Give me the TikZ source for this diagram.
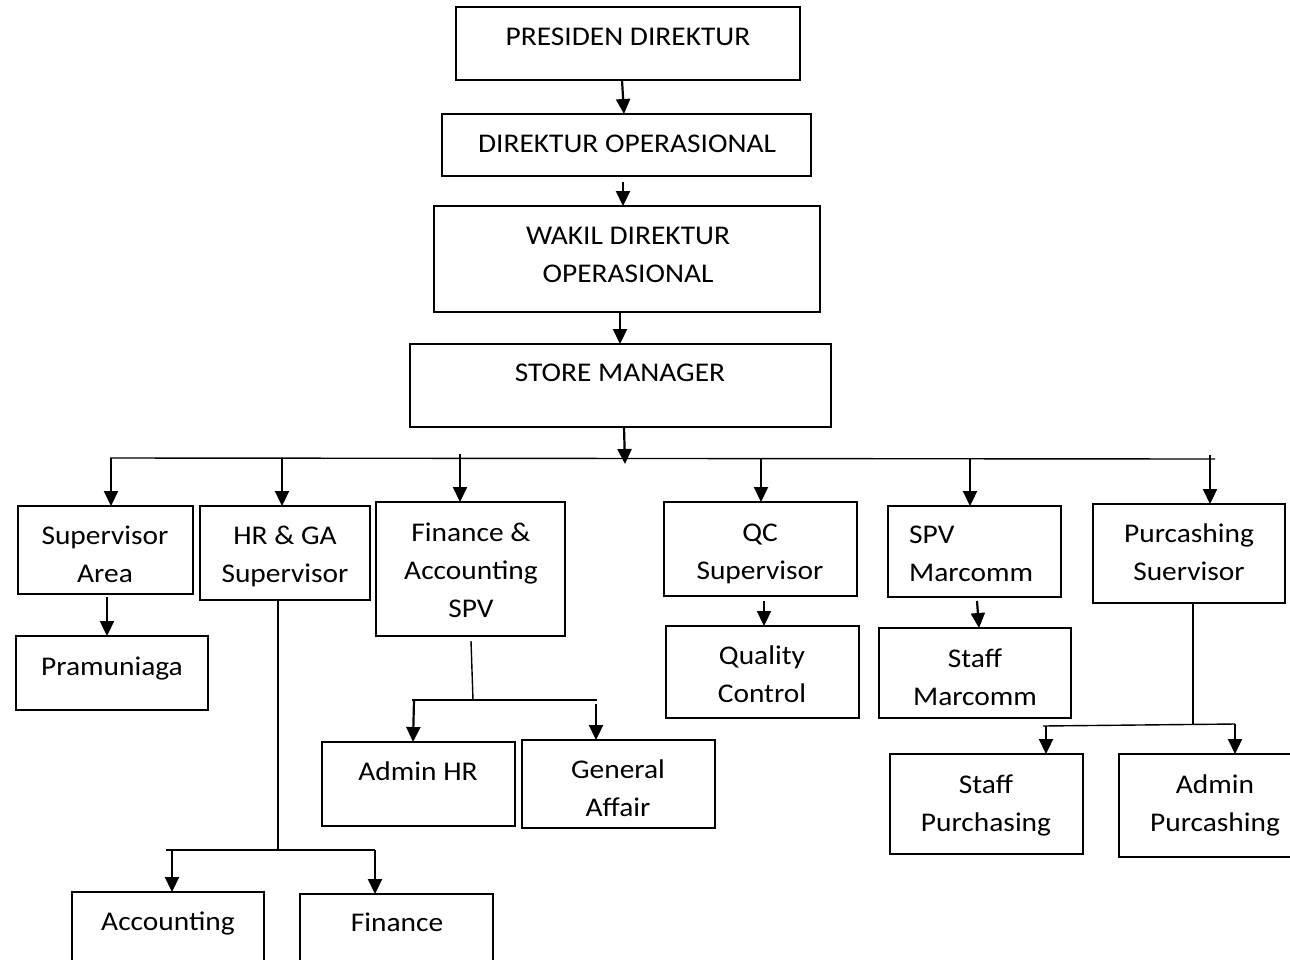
\documentclass[tikz,border=0pt]{standalone}
\usepackage{fontspec}
\setmainfont[FakeStretch=1.09]{Carlito}
\usetikzlibrary{arrows.meta,calc}
\tikzset{
  orgbox/.style={draw, line width=1.7pt, inner sep=0pt, outer sep=0pt},
  txt/.style={font=\fontsize{27}{38}\selectfont, inner sep=0pt, align=center},
  arr/.style={line width=2.2pt, -{Triangle[width=14pt,length=15pt]}},
  ln/.style={line width=1.4pt},
}
\newcommand\OrgBox[5]{\node[orgbox, minimum width={(#4-#2)*1pt}, minimum height={(#5-#3)*1pt}] (#1) at ({(#2+#4)/2},{(#3+#5)/2}) {};}
\begin{document}
\begin{tikzpicture}[x=1pt,y=-1pt]
\useasboundingbox (0,0) rectangle (1290,959);
% boxes
\OrgBox{pd}{456}{7}{800}{80}
\OrgBox{do}{442}{114}{811}{176}
\OrgBox{wdo}{434}{206}{820}{312}
\OrgBox{sm}{410}{344}{831}{427}
\OrgBox{sa}{18}{506}{193}{594}
\OrgBox{hr}{200}{506}{370}{600}
\OrgBox{fa}{376}{502}{565}{636}
\OrgBox{qc}{664}{502}{857}{596}
\OrgBox{mc}{888}{506}{1061}{597}
\OrgBox{pu}{1093}{504}{1285}{603}
\OrgBox{pr}{16}{636}{208}{710}
\OrgBox{qctl}{666}{626}{859}{718}
\OrgBox{smc}{879}{628}{1071}{718}
\OrgBox{ahr}{322}{742}{515}{826}
\OrgBox{ga}{522}{740}{715}{828}
\OrgBox{acc}{72}{892}{264}{985}
\OrgBox{fin}{300}{894}{493}{985}
\OrgBox{sp}{890}{754}{1083}{854}
\OrgBox{ap}{1119}{754}{1320}{857}
% texts
\node[txt, anchor=base] at (628,45.5) {PRESIDEN DIREKTUR};
\node[txt, anchor=base] at (627,152.5) {DIREKTUR OPERASIONAL};
\node[txt] at (628,254.5) {WAKIL DIREKTUR\\OPERASIONAL};
\node[txt, anchor=base] at (620,381.5) {STORE MANAGER};
\node[txt] at (105,554) {Supervisor\\Area};
\node[txt] at (285,556) {HR \& GA\\Supervisor};
\node[txt] at (471,570) {Finance \&\\Accounting\\SPV};
\node[txt] at (760,554) {QC\\Supervisor};
\node[txt, align=left, anchor=west] at (909,554) {SPV\\Marcomm};
\node[txt] at (1189,552) {Purcashing\\Suervisor};
\node[txt, anchor=base] at (112,675.5) {Pramuniaga};
\node[txt] at (762,674.5) {Quality\\Control};
\node[txt] at (975,677) {Staff\\Marcomm};
\node[txt, anchor=base] at (418,780.5) {Admin HR};
\node[txt] at (618,788.5) {General\\Affair};
\node[txt, anchor=base] at (168,930.5) {Accounting};
\node[txt, anchor=base] at (397,931.5) {Finance};
\node[txt] at (986,805) {Staff\\Purchasing};
\node[txt] at (1215,805) {Admin\\Purcashing};
% top chain
\coordinate (doA) at (623,182);
\draw[arr] (pd.south -| 622,0) -- (do.north -| 624,0);
\draw[arr] (doA) -- (wdo.north -| doA);
\draw[arr] (wdo.south -| 620,0) -- (sm.north -| 620,0);
% main bus
\coordinate (smT) at (625,464);
\coordinate (busL) at (110,458);
\coordinate (busR) at (1215,459);
\draw[ln] (busL) -- (busR);
\draw[arr] (sm.south -| 624,0) -- (smT);
\coordinate (faTop) at (460,454);
\coordinate (puTop) at (1210,455);
\draw[arr] (busL -| 111,0) -- (sa.north -| 111,0);
\draw[arr] (busL -| 282,0) -- (hr.north -| 282,0);
\draw[arr] (faTop) -- (fa.north -| faTop);
\draw[arr] (busL -| 761,0) -- (qc.north -| 761,0);
\draw[arr] (busL -| 970,0) -- (mc.north -| 970,0);
\draw[arr] (puTop) -- (pu.north -| puTop);
% supervisor area
\coordinate (saA) at (107,597);
\draw[arr] (saA) -- (pr.north -| saA);
% QC
\coordinate (qcA) at (764,601);
\draw[arr] (qcA) -- (qctl.north -| qcA);
% marcomm
\coordinate (mcA) at (977,601);
\draw[arr] (mcA) -- (smc.north -| 979,0);
% HR & GA branch
\coordinate (hrJ) at (278,850);
\coordinate (hrL) at (166,850);
\coordinate (hrR) at (375,850);
\draw[ln] (hr.south -| hrJ) -- (hrJ);
\draw[ln] (hrL) -- (hrR);
\draw[arr] (hrL -| 172,0) -- (acc.north -| 172,0);
\draw[arr] (hrR) -- (fin.north -| hrR);
% Finance SPV branch
\coordinate (faA) at (471,641);
\coordinate (faJ) at (473,700);
\coordinate (faL) at (412,700);
\coordinate (faR) at (597,700);
\coordinate (faR2) at (596,704);
\draw[ln] (faA) -- (faJ);
\draw[ln] (faL) -- (faR);
\draw[arr] (faL -| 414,0) -- (ahr.north -| 413,0);
\draw[arr] (faR2) -- (ga.north -| faR2);
% Purcashing branch
\coordinate (puJ) at (1193,725);
\coordinate (puL) at (1043,726);
\coordinate (puR) at (1235,724);
\draw[ln] (pu.south -| puJ) -- (puJ);
\draw[ln] (puL) -- (puR);
\draw[arr] (puL -| 1046,0) -- (sp.north -| 1046,0);
\draw[arr] (puR) -- (ap.north -| puR);
\end{tikzpicture}
\end{document}
